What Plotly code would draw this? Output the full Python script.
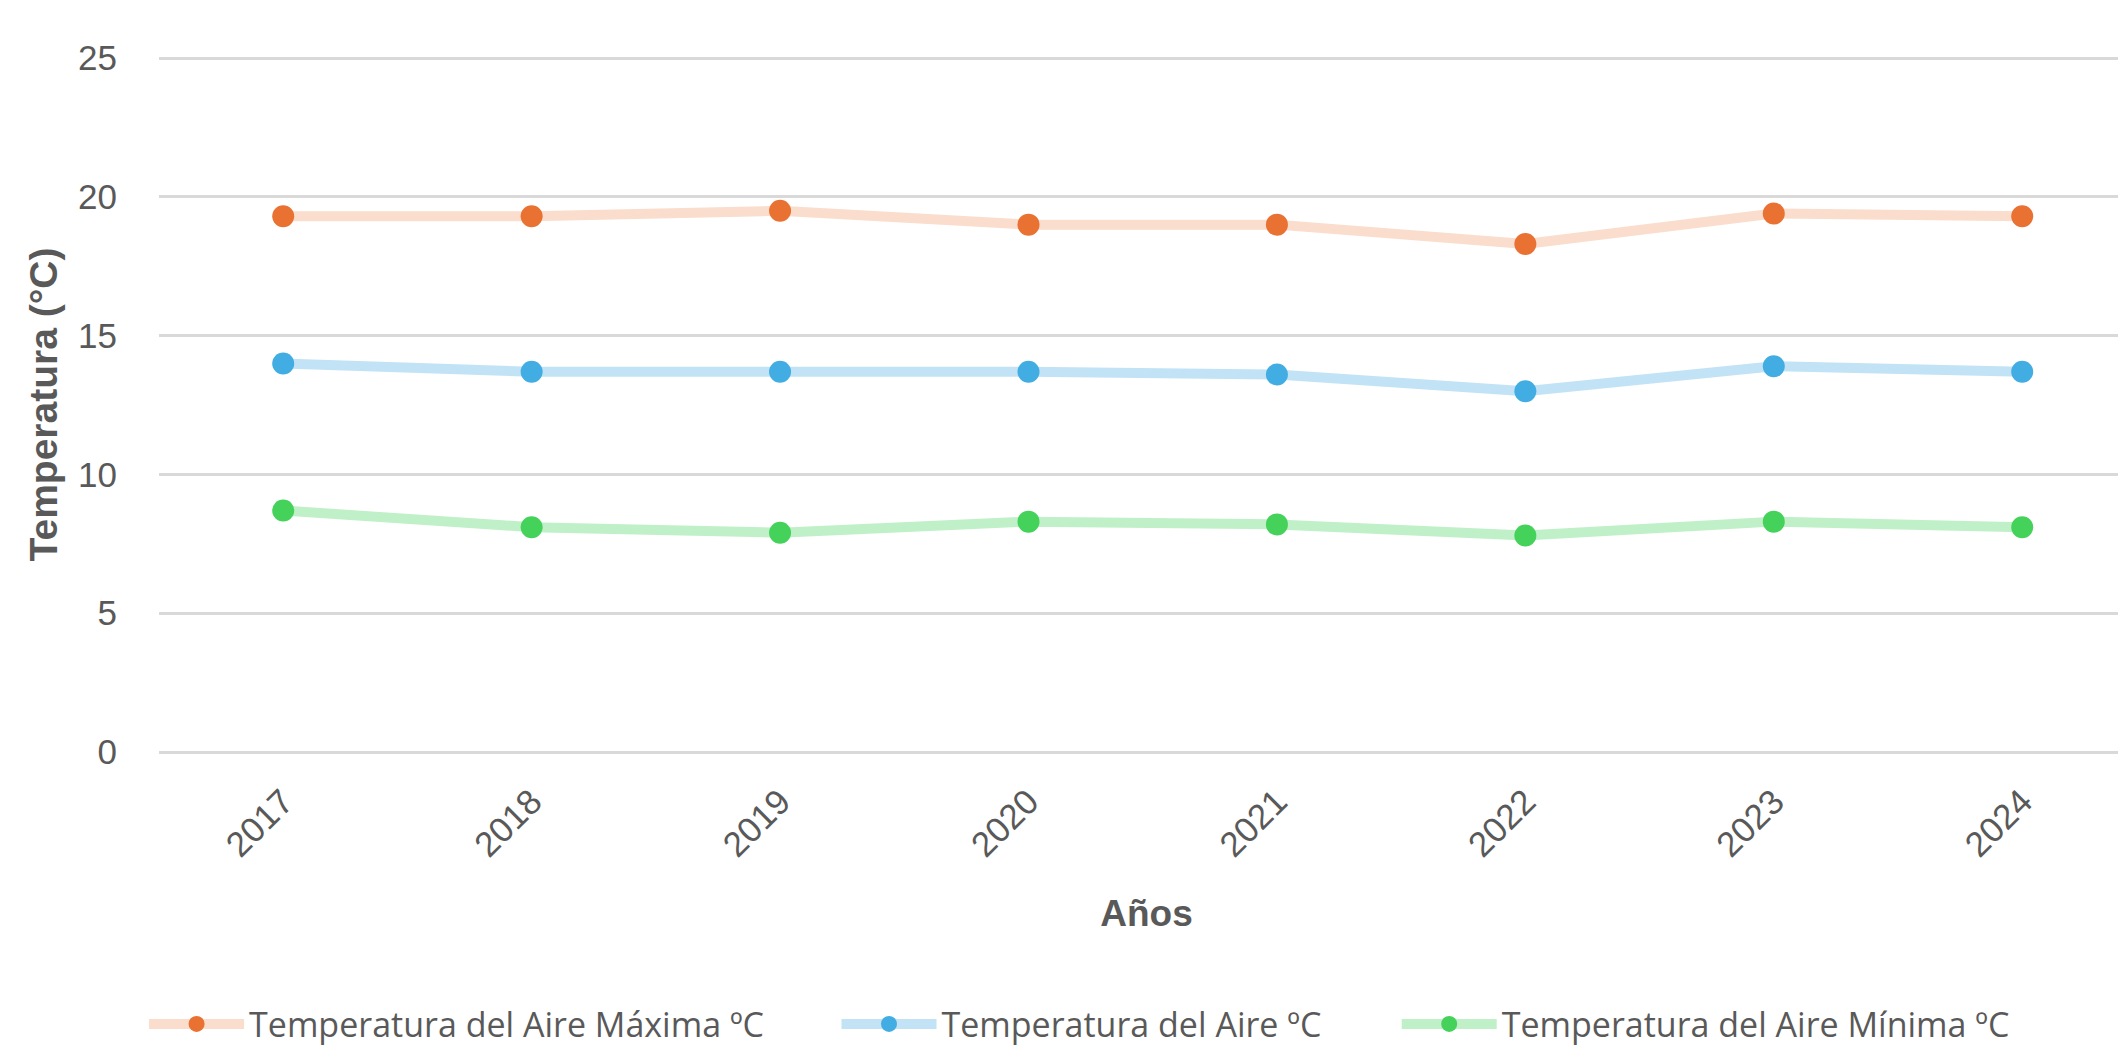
import plotly.graph_objects as go

years = ["2017", "2018", "2019", "2020", "2021", "2022", "2023", "2024"]
t_max = [19.3, 19.3, 19.5, 19.0, 19.0, 18.3, 19.4, 19.3]
t_avg = [14.0, 13.7, 13.7, 13.7, 13.6, 13.0, 13.9, 13.7]
t_min = [8.7, 8.1, 7.9, 8.3, 8.2, 7.8, 8.3, 8.1]

names = ["Temperatura del Aire Máxima ºC", "Temperatura del Aire ºC", "Temperatura del Aire Mínima ºC"]
series = [t_max, t_avg, t_min]
line_colors = ["#FADDCC", "#C2E3F6", "#C0F0C8"]
marker_colors = ["#E97132", "#42ADE2", "#44D25A"]
legend_ids = ["legend", "legend2", "legend3"]
legend_x = [0.064, 0.3897, 0.6532]

grey = "#595959"
fig = go.Figure()
for n, s, lc, mc, lg in zip(names, series, line_colors, marker_colors, legend_ids):
    fig.add_trace(go.Scatter(
        x=years, y=s, name=n, mode="lines+markers",
        line=dict(color=lc, width=10),
        marker=dict(color=mc, size=22, line=dict(width=0)),
        legend=lg,
    ))

legend_common = dict(
    orientation="h", xref="container", yref="container",
    xanchor="left", y=0.033, yanchor="middle",
    font=dict(family="Open Sans, Lato, sans-serif", size=34, color=grey),
    itemwidth=95, bgcolor="rgba(0,0,0,0)",
)

layout_legends = {}
for lg, lx in zip(legend_ids, legend_x):
    layout_legends[lg] = dict(legend_common, x=lx)

fig.update_layout(
    width=2126, height=1051,
    paper_bgcolor="white", plot_bgcolor="white",
    margin=dict(l=151, r=0, t=49, b=307),
    font=dict(family="Liberation Sans, Arial, sans-serif", color=grey, size=34),
    showlegend=True,
    xaxis=dict(
        type="category", range=[-0.5, 7.45], automargin=False,
        tickangle=-45, showgrid=False, showline=False, zeroline=False,
        ticks="outside", ticklen=14, tickcolor="rgba(0,0,0,0)",
        tickfont=dict(size=35, color=grey),
        title=dict(text="<b>Años</b>", font=dict(size=37, color=grey), standoff=37),
    ),
    yaxis=dict(
        range=[0, 25.04], tickvals=[0, 5, 10, 15, 20, 25], automargin=False,
        showgrid=True, gridcolor="#D9D9D9", gridwidth=3,
        zeroline=True, zerolinecolor="#D9D9D9", zerolinewidth=3,
        showline=False,
        ticks="outside", ticklen=34, tickcolor="rgba(0,0,0,0)",
        tickfont=dict(size=35, color=grey),
        title=dict(text="<b>Temperatura (°C)</b>", font=dict(size=39, color=grey), standoff=8),
    ),
    **layout_legends,
)

fig.write_html("out.html")
